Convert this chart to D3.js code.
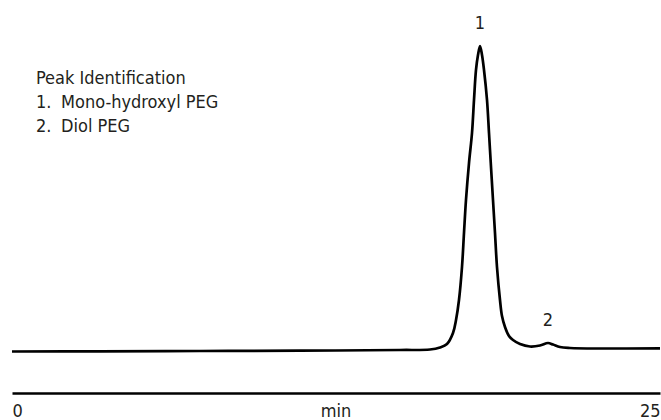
<!DOCTYPE html>
<html>
<head>
<meta charset="utf-8">
<script src="https://cdn.jsdelivr.net/npm/d3@7"></script>
<style>
  body { margin: 0; background: #fff; }
  svg text { font-family: "DejaVu Sans Condensed", "Liberation Sans Narrow", sans-serif; font-stretch: condensed; fill: #231f20; }
</style>
</head>
<body>
<div id="chart"></div>
<script>
// retention time (min) and detector signal (relative units)
let times = [0, 3.395, 7.253, 11.111, 14.969, 16.127, 16.512, 16.782, 17.014, 17.130,
  17.245, 17.361, 17.438, 17.515, 17.631, 17.747, 17.824, 17.901, 17.978, 18.056,
  18.133, 18.210, 18.326, 18.403, 18.480, 18.557, 18.634, 18.711, 18.827,
  18.904, 19.020, 19.174, 19.329, 19.599, 19.985, 20.370, 20.679, 20.872, 21.142,
  21.528, 22.685, 25.0];
let signal = [0, 0.07, 0.16, 0.26, 0.49, 0.65, 1.31, 2.45, 6.06, 10.31,
  16.86, 27.66, 38.79, 49.59, 61.70, 71.52, 82.32, 92.15, 97.05, 100,
  97.05, 92.15, 82.32, 71.52, 60.39, 49.59, 38.79, 27.66, 16.86,
  11.62, 8.02, 5.07, 3.76, 2.45, 1.64, 1.96, 2.78, 2.29, 1.47,
  1.15, 0.98, 1.05];

let peakNames = ["1", "2"];
let peakTimes = [18.056, 20.679];
let peakHeights = [100, 2.78];
let legendTitle = "Peak Identification";
let legendItems = ["Mono-hydroxyl PEG", "Diol PEG"];
let xTicks = [0, 25];
let xLabel = "min";

let width = 661, height = 420;

let svg = d3.select("#chart").append("svg")
  .attr("width", width)
  .attr("height", height);

let x = d3.scaleLinear().domain([0, 25]).range([12, 660]);
let y = d3.scaleLinear().domain([0, 100]).range([351.5, 46]);

let data = times.map(function(t, i) { return [t, signal[i]]; });

let line = d3.line()
  .x(function(d) { return x(d[0]); })
  .y(function(d) { return y(d[1]); })
  .curve(d3.curveCatmullRom.alpha(0.5));

svg.append("path")
  .datum(data)
  .attr("d", line)
  .attr("fill", "none")
  .attr("stroke", "#000")
  .attr("stroke-width", 2.7)
  .attr("stroke-linejoin", "round");

// peak numbers above each peak
svg.selectAll(".peak-label")
  .data(peakNames).enter()
  .append("text")
  .attr("class", "peak-label")
  .attr("x", function(d, i) { return x(peakTimes[i]); })
  .attr("y", function(d, i) { return y(peakHeights[i]) - 17; })
  .attr("text-anchor", "middle")
  .attr("font-size", 18)
  .text(function(d) { return d; });

// x axis: just a line with the end values
let axis = svg.append("g")
  .attr("transform", "translate(0,393)")
  .call(d3.axisBottom(x).tickValues(xTicks).tickSize(0).tickFormat(d3.format("d")));

axis.select(".domain").attr("stroke", "#000").attr("stroke-width", 2.7);
axis.selectAll(".tick text")
  .attr("font-size", 18)
  .attr("font-family", null)
  .attr("fill", null)
  .attr("y", 24)
  .attr("dy", null)
  .attr("text-anchor", function(d, i) { return i == 0 ? "start" : "end"; });

svg.append("text")
  .attr("x", x(12.5))
  .attr("y", 417)
  .attr("text-anchor", "middle")
  .attr("font-size", 18)
  .text(xLabel);

// legend
let legend = svg.append("g").attr("transform", "translate(36,84)");
legend.append("text").attr("font-size", 18).text(legendTitle);
legendItems.forEach(function(name, i) {
  legend.append("text").attr("y", 24 * (i + 1)).attr("font-size", 18).text((i + 1) + ".");
  legend.append("text").attr("x", 25).attr("y", 24 * (i + 1)).attr("font-size", 18).text(name);
});
</script>
</body>
</html>
